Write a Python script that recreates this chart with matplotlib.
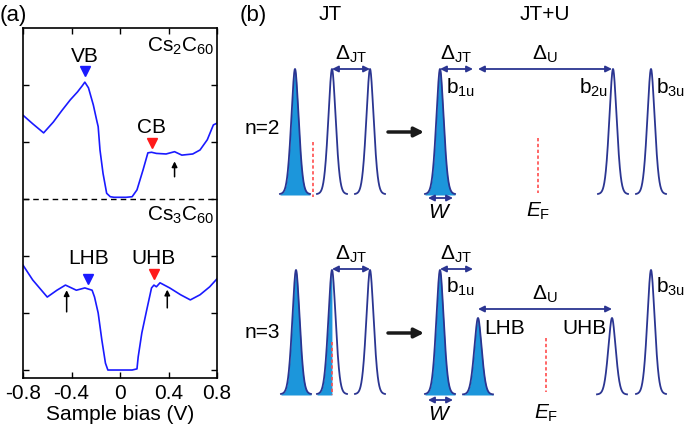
"""
STS spectra of Cs2C60 / Cs3C60 (a) and schematic JT / JT+U level diagrams (b)
"""

import numpy as np
import matplotlib
matplotlib.use('Agg')
import matplotlib.pyplot as plt

plt.rcParams['font.family'] = ['Liberation Sans', 'DejaVu Sans']
plt.rcParams['mathtext.fontset'] = 'custom'
plt.rcParams['mathtext.rm'] = 'Liberation Sans'
plt.rcParams['mathtext.it'] = 'Liberation Sans:italic'
plt.rcParams['mathtext.sf'] = 'Liberation Sans'

# ---- panel (a) data: dI/dV curves (offset units) ----
bias_cs2 = [-0.80, -0.72, -0.63, -0.55, -0.48, -0.41, -0.35, -0.31, -0.29,
            -0.26, -0.22, -0.19, -0.18, -0.165, -0.14, -0.11, -0.08, -0.05,
            0.00, 0.05, 0.10, 0.14, 0.19, 0.23, 0.26, 0.30, 0.38, 0.45,
            0.51, 0.60, 0.66, 0.72, 0.77, 0.80]
dos_cs2 = [4.47, 4.32, 4.16, 4.35, 4.55, 4.74, 4.88, 4.99, 5.05,
           4.95, 4.65, 4.36, 4.27, 3.86, 3.45, 3.10, 3.04, 3.03,
           3.03, 3.03, 3.04, 3.16, 3.51, 3.81, 3.82, 3.80, 3.79, 3.83,
           3.77, 3.79, 3.86, 4.04, 4.30, 4.33]

bias_cs3 = [-0.80, -0.72, -0.60, -0.52, -0.45, -0.36, -0.29, -0.23, -0.21,
            -0.18, -0.15, -0.12, -0.10, -0.05, 0.00, 0.05, 0.10, 0.14,
            0.15, 0.18, 0.22, 0.26, 0.28, 0.30, 0.33, 0.41, 0.50, 0.58,
            0.66, 0.74, 0.80]
dos_cs3 = [1.84, 1.58, 1.28, 1.40, 1.49, 1.40, 1.44, 1.40, 1.28,
           1.00, 0.53, 0.12, 0.00, 0.00, 0.00, 0.00, 0.00, 0.02,
           0.23, 0.65, 1.05, 1.44, 1.49, 1.46, 1.53, 1.44, 1.32, 1.23,
           1.32, 1.46, 1.60]

# markers: (label, bias, marker y, text y, colour)
mark_labels = ['VB', 'CB', 'LHB', 'UHB']
mark_bias = [-0.29, 0.26, -0.26, 0.28]
mark_y = [5.25, 3.98, 1.60, 1.68]
label_y = [5.50, 4.26, 1.95, 1.95]
mark_colors = ['#1a1aff', '#ff1a1a', '#1a1aff', '#ff1a1a']

# small up arrows: bias, start, end
up_bias = [0.45, -0.44, 0.39]
up_start = [3.39, 1.02, 1.09]
up_end = [3.66, 1.40, 1.41]

xticks = [-0.8, -0.4, 0, 0.4, 0.8]
xtick_labels = ['-0.8', '-0.4', '0', '0.4', '0.8']

# ---- panel (b) data (schematic, figure pixel units) ----
# rows: n=2 (top) and n=3 (bottom)
row_base = [195, 395]
peak_x = [[295, 332, 370, 440, 613, 651],
          [296, 332, 370, 440, 478, 612, 651]]
peak_h = [[126, 126, 126, 126, 126, 126],
          [125, 125, 125, 125, 77, 77, 125]]
# fill: 'full', 'left' (filled up to the centre), 'none'
peak_fill = [['full', 'none', 'none', 'full', 'none', 'none'],
             ['full', 'left', 'none', 'full', 'full', 'none', 'none']]
ef_x = [[313, 538], [332, 546]]
ef_top = [[142, 138], [342, 338]]
ef_bot = [[197, 193], [395, 392]]

navy = '#2b3591'
cyan = '#1c96db'
fs = 15

fig = plt.figure(figsize=(6.85, 4.33), dpi=100)

# ================= panel (a) =================
ax = fig.add_axes([23 / 685, 55 / 433, 194 / 685, 350 / 433])
ax.plot(bias_cs2, dos_cs2, color='#1a1aff', lw=1.2)
ax.plot(bias_cs3, dos_cs3, color='#1a1aff', lw=1.2)
ax.axhline(3, color='black', ls=(0, (4, 3)), lw=1.0)

for lab, bx, my, ly, c in zip(mark_labels, mark_bias, mark_y, label_y, mark_colors):
    ax.plot(bx, my, marker='v', color=c, ms=7, mec=c)
    ax.text(bx, ly, lab, ha='center', va='center', fontsize=fs)

for bx, y0, y1 in zip(up_bias, up_start, up_end):
    ax.annotate('', xy=(bx, y1), xytext=(bx, y0),
                arrowprops=dict(arrowstyle='-|>', color='black', lw=1.1,
                                mutation_scale=8, shrinkA=0, shrinkB=0))

ax.text(0.78, 5.68, r'Cs$_2$C$_{60}$', ha='right', va='center', fontsize=fs)
ax.text(0.78, 2.72, r'Cs$_3$C$_{60}$', ha='right', va='center', fontsize=fs)

ax.set_xlim(-0.8, 0.8)
ax.set_ylim(-0.14, 6.0)
ax.set_xticks(xticks)
ax.set_xticklabels(xtick_labels)
ax.set_yticks(range(6))
ax.set_yticklabels([])
ax.tick_params(direction='in', length=4, width=1.0, top=True, right=True,
               labelsize=fs, pad=4)
for sp in ax.spines.values():
    sp.set_linewidth(1.2)
ax.set_xlabel('Sample bias (V)', fontsize=fs, labelpad=2)

# ================= panel (b) =================
axb = fig.add_axes([0, 0, 1, 1])
axb.set_xlim(0, 685)
axb.set_ylim(433, 0)
axb.axis('off')

axb.text(0, 15, '(a)', fontsize=16, va='center', ha='left')
axb.text(240, 15, '(b)', fontsize=16, va='center', ha='left')
axb.text(330, 15, 'JT', fontsize=fs, va='center', ha='center')
axb.text(545, 15, 'JT+U', fontsize=fs, va='center', ha='center')

sig = 4.0
for base, xs, hs, fills in zip(row_base, peak_x, peak_h, peak_fill):
    for c, h, f in zip(xs, hs, fills):
        dx = np.linspace(-15, 15, 200)
        shape = 0.8 * np.exp(-dx ** 2 / (2 * sig ** 2)) + 0.2 / (1 + (dx / 3.0) ** 2)
        yy = base - h * shape
        if f == 'full':
            axb.fill_between(c + dx, base, yy, color=cyan, lw=0)
        elif f == 'left':
            m = dx <= 0
            axb.fill_between(c + dx[m], base, yy[m], color=cyan, lw=0)
        axb.plot(c + dx, yy, color=navy, lw=1.3)

for xs, tops, bots in zip(ef_x, ef_top, ef_bot):
    for x, t, b in zip(xs, tops, bots):
        axb.plot([x, x], [t, b], color='#ff4d4d', lw=1.2, ls=(0, (2, 1.5)))


def darrow(x0, x1, y):
    axb.annotate('', xy=(x1, y), xytext=(x0, y),
                 arrowprops=dict(arrowstyle='<|-|>', color=navy, lw=1.3,
                                 mutation_scale=9, shrinkA=0, shrinkB=0))


# Delta arrows: (x0, x1, y, label)
arr_x0 = [332, 440, 478, 332, 440, 478, 428, 428]
arr_x1 = [370, 473, 612, 370, 473, 612, 453, 453]
arr_y = [69, 69, 69, 269, 269, 309, 198, 400]
arr_lab = [r'$\Delta_{\mathrm{JT}}$', r'$\Delta_{\mathrm{JT}}$', r'$\Delta_{\mathrm{U}}$',
           r'$\Delta_{\mathrm{JT}}$', r'$\Delta_{\mathrm{JT}}$', r'$\Delta_{\mathrm{U}}$',
           None, None]
for x0, x1, y, lab in zip(arr_x0, arr_x1, arr_y, arr_lab):
    darrow(x0, x1, y)
    if lab:
        axb.text((x0 + x1) / 2, y - 4, lab, ha='center', va='bottom', fontsize=fs)

for y in [212, 414]:
    axb.text(440, y, r'$\it{W}$', ha='center', va='center', fontsize=fs)

for y in [132, 333]:
    axb.annotate('', xy=(424, y), xytext=(388, y),
                 arrowprops=dict(arrowstyle='-|>', color='#1a1a1a', lw=2.5,
                                 mutation_scale=14, shrinkA=0, shrinkB=0))

axb.text(245, 128, 'n=2', ha='left', va='center', fontsize=fs)
axb.text(245, 333, 'n=3', ha='left', va='center', fontsize=fs)

axb.text(446, 88, r'b$_{\mathrm{1u}}$', ha='left', va='center', fontsize=fs)
axb.text(446, 287, r'b$_{\mathrm{1u}}$', ha='left', va='center', fontsize=fs)
axb.text(608, 88, r'b$_{\mathrm{2u}}$', ha='right', va='center', fontsize=fs)
axb.text(656, 88, r'b$_{\mathrm{3u}}$', ha='left', va='center', fontsize=fs)
axb.text(656, 287, r'b$_{\mathrm{3u}}$', ha='left', va='center', fontsize=fs)
axb.text(484, 329, 'LHB', ha='left', va='center', fontsize=fs)
axb.text(607, 329, 'UHB', ha='right', va='center', fontsize=fs)

axb.text(538, 211, r'$\it{E}_{\mathrm{F}}$', ha='center', va='center', fontsize=fs)
axb.text(546, 413, r'$\it{E}_{\mathrm{F}}$', ha='center', va='center', fontsize=fs)

fig.savefig('out.png', dpi=100)
plt.close(fig)
